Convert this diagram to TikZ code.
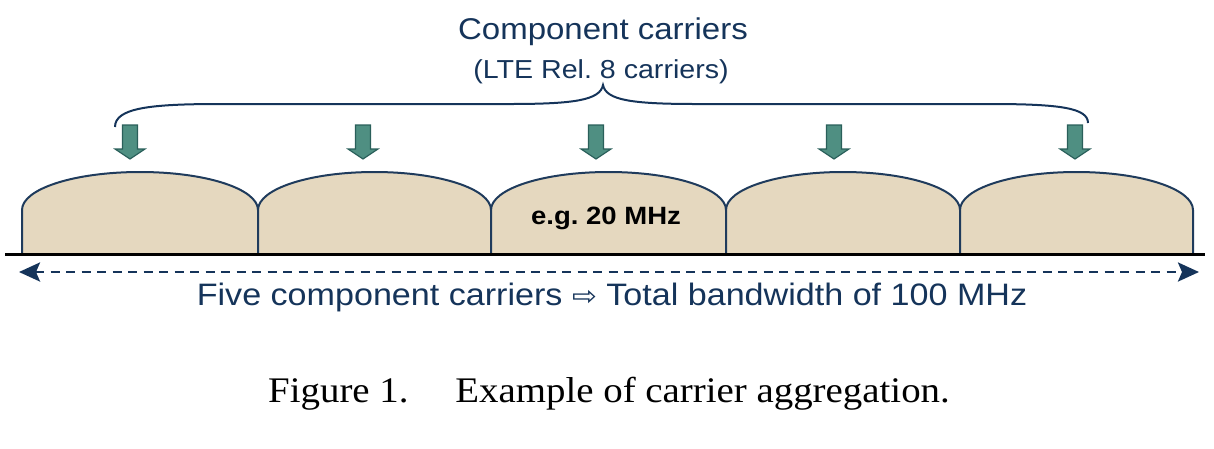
\documentclass[tikz,border=0pt]{standalone}
\usepackage{fontspec}
\usetikzlibrary{arrows.meta}
\newfontfamily\sansx[FakeStretch=1.1]{Liberation Sans}
\newfontfamily\serifx[FakeStretch=1.08]{Liberation Serif}
\newfontfamily\symx[FakeStretch=1.1]{DejaVu Sans}
\definecolor{navy}{HTML}{15345A}
\definecolor{lumpline}{HTML}{1F3B5C}
\definecolor{lumpfill}{HTML}{E5D8BF}
\definecolor{arrfill}{HTML}{4F8F82}
\definecolor{arrline}{HTML}{2A5F5A}
\tikzset{
  lump/.style={draw=lumpline, fill=lumpfill, line width=2pt, line join=round},
  downarrow/.style={draw=arrline, fill=arrfill, line width=1.2pt, line join=miter},
  bracepath/.style={draw=navy, line width=2pt},
  freqaxis/.style={draw=black, line width=3pt},
  bwarrow/.style={draw=navy, line width=2.8pt, dash pattern=on 9pt off 6.5pt,
     {Stealth[length=21pt,width=19pt,inset=4pt]}-{Stealth[length=21pt,width=19pt,inset=4pt]}},
  titletext/.style={text=navy, font=\sansx\fontsize{30}{36}\selectfont, inner sep=0pt},
  subtext/.style={text=navy, font=\sansx\fontsize{26}{30}\selectfont, inner sep=0pt},
  bwtext/.style={text=navy, font=\sansx\fontsize{31}{36}\selectfont, inner sep=0pt},
  lumptext/.style={text=black, font=\sansx\bfseries\fontsize{25}{30}\selectfont, inner sep=0pt},
  captext/.style={text=black, font=\serifx\fontsize{36}{42}\selectfont, inner sep=0pt}
}
\begin{document}
\frenchspacing
\begin{tikzpicture}[x=1pt,y=-1pt]
\useasboundingbox (0,0) rectangle (1214,448);
% carriers (lumps)
\foreach \a/\b in {22/258, 258/491, 491/726, 726/960, 960/1193}{
  \pgfmathsetmacro{\c}{(\a+\b)/2}
  \pgfmathsetmacro{\h}{(\b-\a)/2*0.56}
  \path[lump] (\a,254) -- (\a,210) .. controls (\a,189) and (\c-\h,172) .. (\c,172)
     .. controls (\c+\h,172) and (\b,189) .. (\b,210) -- (\b,254) -- cycle;
}
% frequency axis
\coordinate (axL) at (5,254);
\coordinate (axR) at (1205,254);
\draw[freqaxis] (axL) -- (axR);
% down arrows
\foreach \x in {130, 363, 596, 834, 1075}{
  \path[downarrow] (\x-7.5,125) -- (\x+7.5,125) -- (\x+7.5,149) -- (\x+15,149)
     -- (\x,159) -- (\x-15,149) -- (\x-7.5,149) -- cycle;
}
% brace
\coordinate (brL) at (115,127);
\coordinate (brT) at (603,85);
\coordinate (brR) at (1088,123);
\draw[bracepath] (brL) .. controls (115,108) and (150,104) .. (220,104) -- (510,104)
   .. controls (575,104) and (600,100) .. (brT)
   .. controls (606,100) and (631,104) .. (696,104) -- (990,104)
   .. controls (1060,104) and (1088,108) .. (brR);
% texts
\node[titletext] (title) at (603,32) {Component carriers};
\node[subtext] (sub) at (601,72) {(LTE Rel. 8 carriers)};
\node[lumptext] (eg) at (606,218) {e.g. 20 MHz};
% bandwidth arrow
\coordinate (bwL) at (19,272);
\coordinate (bwR) at (1199,272);
\draw[bwarrow] (bwL) -- (bwR);
\node[bwtext] (bw) at (612,297) {Five component carriers {\symx\fontsize{27}{30}\selectfont ⇨} Total bandwidth of 100 MHz};
\node[captext] (cap) at (609,394) {Figure 1.\hspace{1.3em}Example of carrier aggregation.};
\end{tikzpicture}
\end{document}
